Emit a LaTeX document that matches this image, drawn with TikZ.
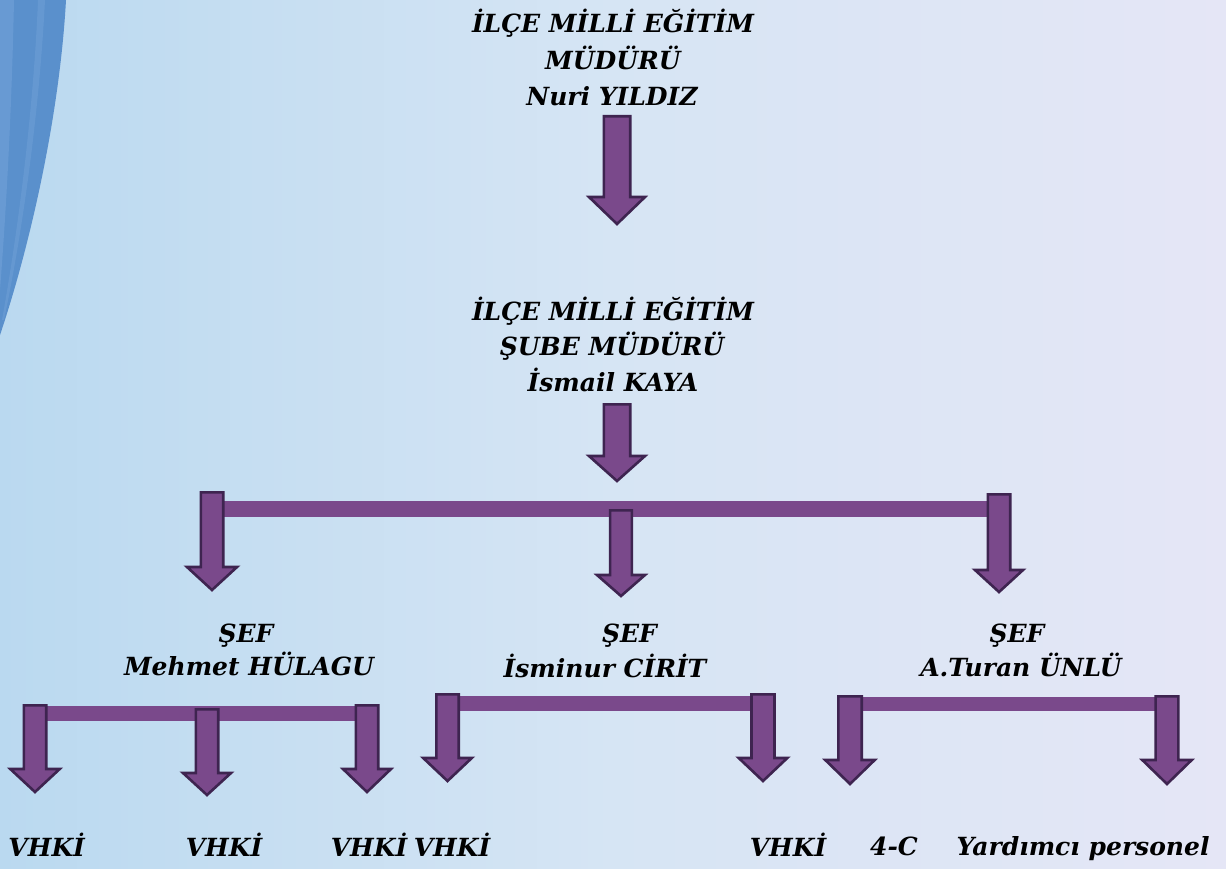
\documentclass[tikz,border=0pt]{standalone}
\usepackage{fontspec}
\setmainfont{DejaVu Serif}
\definecolor{arrowfill}{RGB}{122,73,139}
\definecolor{arrowline}{RGB}{62,36,80}
\definecolor{bgleft}{RGB}{186,217,240}
\definecolor{bgmid}{RGB}{214,229,244}
\definecolor{bgright}{RGB}{229,230,246}
\definecolor{curtain}{RGB}{90,144,204}
\definecolor{curtainlight}{RGB}{118,165,218}
\tikzset{
  blockarrow/.style={fill=arrowfill, draw=arrowline, line width=2.6pt, line join=miter},
  barfill/.style={fill=arrowfill},
  lbl/.style={font=\fontsize{25}{30}\selectfont\bfseries\itshape, anchor=base, inner sep=0pt, text=black}
}
% name, cx, top, headstart, tip, shafthalf, headhalf
\newcommand\barrow[7]{%
  \draw[blockarrow] (#2-#6+1.3,#3+1.3) -- (#2+#6-1.3,#3+1.3) -- (#2+#6-1.3,#4) -- (#2+#7-2,#4)
     -- (#2,#5-3) -- (#2-#7+2,#4) -- (#2-#6+1.3,#4) -- cycle;
  \coordinate (#1) at (#2,#3);
}
\begin{document}
\begin{tikzpicture}[x=1pt,y=-1pt]
\useasboundingbox (0,0) rectangle (1226,869);
% background
\shade[left color=bgleft, right color=bgright, middle color=bgmid] (0,0) rectangle (1226,869);
% curtain on the left
\fill[curtain] (0,0) -- (66,0) .. controls (60,110) and (32,240) .. (0,335) -- cycle;
\fill[curtainlight, opacity=0.5] (0,0) -- (14,0) .. controls (12,100) and (7,200) .. (0,290) -- cycle;
\fill[curtainlight, opacity=0.4] (38,0) -- (45,0) .. controls (40,100) and (25,220) .. (4,320) -- (2,320) .. controls (20,220) and (34,100) .. cycle;

% horizontal bars
\fill[barfill] (212,501) rectangle (999,517);
\fill[barfill] (35,706) rectangle (367,721);
\fill[barfill] (447,695.5) rectangle (763,711);
\fill[barfill] (850,697) rectangle (1167,711);

% arrows
\barrow{a1}{617}{115}{197}{227}{14.5}{30}
\barrow{a2}{617}{403}{456}{484}{14.5}{30}
\barrow{b1}{212}{491}{567}{593}{12.5}{27}
\barrow{b2}{621}{509}{575}{599}{12.2}{26}
\barrow{b3}{999}{493}{570}{595}{12.5}{26}
\barrow{c1}{35}{704}{769}{795}{12.5}{26.7}
\barrow{c2}{207}{708}{773}{798}{12.5}{26}
\barrow{c3}{367}{704}{769}{795}{12.5}{26}
\barrow{c4}{447.5}{693}{758}{784}{12.5}{26.3}
\barrow{c5}{763}{693}{758}{784}{12.8}{26.3}
\barrow{c6}{850}{695}{760}{787}{13}{26.7}
\barrow{c7}{1167}{695}{760}{787}{12.7}{26.7}

% texts
\node[lbl] (top1) at (613,33) {İLÇE MİLLİ EĞİTİM};
\node[lbl] (top2) at (613,70) {MÜDÜRÜ};
\node[lbl] (top3) at (612,106) {Nuri YILDIZ};
\node[lbl] (sub1) at (613,320) {İLÇE MİLLİ EĞİTİM};
\node[lbl] (sub2) at (612,355) {ŞUBE MÜDÜRÜ};
\node[lbl] (sub3) at (613,391.5) {İsmail KAYA};
\node[lbl] (sefA) at (246,642.7) {ŞEF};
\node[lbl] (nameA) at (249,675) {Mehmet HÜLAGU};
\node[lbl] (sefB) at (629.5,642.7) {ŞEF};
\node[lbl] (nameB) at (605,677) {İsminur CİRİT};
\node[lbl] (sefC) at (1017,642.7) {ŞEF};
\node[lbl] (nameC) at (1021,676.7) {A.Turan ÜNLÜ};
\node[lbl] (v1) at (46.7,856.7) {VHKİ};
\node[lbl] (v2) at (224,856.7) {VHKİ};
\node[lbl] (v3) at (369,856.7) {VHKİ};
\node[lbl] (v4) at (452,856.7) {VHKİ};
\node[lbl] (v5) at (788,856.7) {VHKİ};
\node[lbl] (k4c) at (894,855) {4-C};
\node[lbl] (yard) at (1083,855) {Yardımcı personel};
\end{tikzpicture}
\end{document}
